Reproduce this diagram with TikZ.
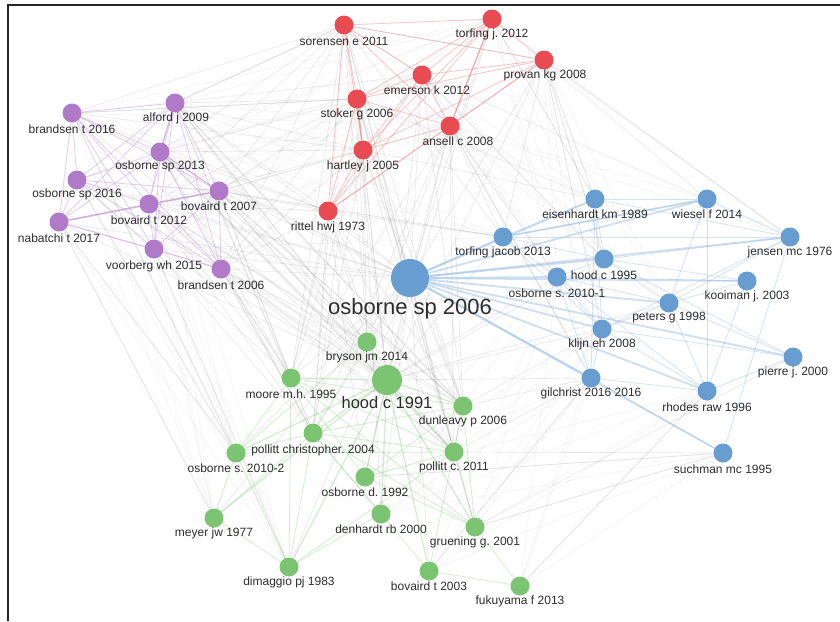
\documentclass[tikz,border=0pt]{standalone}
\usepackage{fontspec}
\setmainfont{Liberation Sans}
\frenchspacing
\pgfdeclarelayer{bg}
\pgfsetlayers{bg,main}
\definecolor{cred}{RGB}{232,76,82}
\definecolor{cpur}{RGB}{176,122,200}
\definecolor{cblu}{RGB}{104,157,210}
\definecolor{cgrn}{RGB}{122,196,114}
\definecolor{labc}{RGB}{45,45,45}
\tikzset{
  nd/.style={circle,inner sep=0pt,minimum size=19pt,draw=none},
  rn/.style={nd,fill=cred},
  pn/.style={nd,fill=cpur},
  bn/.style={nd,fill=cblu},
  gn/.style={nd,fill=cgrn},
  lab/.style={text=labc,font=\fontsize{12}{13}\selectfont,inner sep=0pt},
  ge/.style={draw=gray!70,opacity=.24,line width=.7pt},
  lge/.style={draw=gray!60,opacity=.14,line width=.7pt},
  re/.style={draw=cred!70,opacity=.45,line width=.8pt},
  pe/.style={draw=cpur!80,opacity=.45,line width=.8pt},
  be/.style={draw=cblu!80,opacity=.35,line width=.8pt},
  bbe/.style={draw=cblu!70,opacity=.45,line width=1.8pt},
  gre/.style={draw=cgrn!80,opacity=.4,line width=.8pt},
}
\newcommand\mknode[7]{\node[#2] (#1) at (#3,#4) {}; \node[lab] (#1L) at (#5,#6) {#7};}
\begin{document}
\begin{tikzpicture}[x=1pt,y=-1pt]
\useasboundingbox (0,0) rectangle (840,621);
\begin{pgfonlayer}{bg}
\fill[white] (0,0) rectangle (840,621);
\end{pgfonlayer}
\draw[black!85,line width=1.2pt] (8,621) -- (8,5) -- (840,5);
% red
\mknode{sor}{rn}{344}{25}{344}{41}{sorensen e 2011}
\mknode{torj}{rn}{492}{19}{492}{34}{torfing j. 2012}
\mknode{prov}{rn}{544}{60}{545}{75}{provan kg 2008}
\mknode{emer}{rn}{422}{75}{427}{90}{emerson k 2012}
\mknode{stok}{rn}{357}{99}{357}{114}{stoker g 2006}
\mknode{ans}{rn}{450}{126}{458}{141}{ansell c 2008}
\mknode{hart}{rn}{363}{150}{363}{166}{hartley j 2005}
\mknode{rit}{rn}{328}{211}{328}{227}{rittel hwj 1973}
% purple
\mknode{bra16}{pn}{72}{113}{72}{129}{brandsen t 2016}
\mknode{alf}{pn}{175}{103}{176}{118}{alford j 2009}
\mknode{osb13}{pn}{160}{152}{160}{166}{osborne sp 2013}
\mknode{osb16}{pn}{77}{180}{77}{194}{osborne sp 2016}
\mknode{bov12}{pn}{149}{204}{149}{220}{bovaird t 2012}
\mknode{bov07}{pn}{219}{191}{219}{206}{bovaird t 2007}
\mknode{nab}{pn}{59}{222}{59}{238}{nabatchi t 2017}
\mknode{voor}{pn}{154}{249}{154}{266}{voorberg wh 2015}
\mknode{bra06}{pn}{221}{269}{221}{285}{brandsen t 2006}
% blue
\node[nd,fill=cblu,minimum size=38pt] (osb06) at (410,278) {};
\node[text=labc,font=\fontsize{22}{24}\selectfont,inner sep=0pt] (osb06L) at (410,309) {osborne sp 2006};
\mknode{eis}{bn}{595}{199}{595}{214}{eisenhardt km 1989}
\mknode{wie}{bn}{707}{199}{707}{214}{wiesel f 2014}
\mknode{torjac}{bn}{503}{237}{503}{252}{torfing jacob 2013}
\mknode{jen}{bn}{790}{237}{790}{252}{jensen mc 1976}
\mknode{hood95}{bn}{604}{259}{604}{275}{hood c 1995}
\mknode{osb101}{bn}{557}{277}{557}{293}{osborne s. 2010-1}
\mknode{koo}{bn}{747}{281}{747}{296}{kooiman j. 2003}
\mknode{pet}{bn}{669}{303}{669}{318}{peters g 1998}
\mknode{kli}{bn}{602}{329}{602}{344}{klijn eh 2008}
\mknode{pie}{bn}{793}{357}{793}{372}{pierre j. 2000}
\mknode{gil}{bn}{591}{378}{591}{393}{gilchrist 2016 2016}
\mknode{rho}{bn}{707}{391}{707}{407}{rhodes raw 1996}
\mknode{suc}{bn}{723}{453}{723}{469}{suchman mc 1995}
% green
\node[nd,fill=cgrn,minimum size=30pt] (hood91) at (387,380) {};
\node[text=labc,font=\fontsize{16.5}{18}\selectfont,inner sep=0pt] (hood91L) at (387,403) {hood c 1991};
\mknode{bry}{gn}{367}{342}{367}{357}{bryson jm 2014}
\mknode{moo}{gn}{291}{378}{291}{394}{moore m.h. 1995}
\mknode{dun}{gn}{463}{406}{463}{421}{dunleavy p 2006}
\mknode{polc04}{gn}{313}{433}{313}{450}{pollitt christopher. 2004}
\mknode{osb102}{gn}{236}{453}{236}{468}{osborne s. 2010-2}
\mknode{polc11}{gn}{454}{452}{454}{467}{pollitt c. 2011}
\mknode{osbd}{gn}{365}{477}{365}{492}{osborne d. 1992}
\mknode{den}{gn}{381}{514}{381}{529}{denhardt rb 2000}
\mknode{mey}{gn}{214}{518}{214}{533}{meyer jw 1977}
\mknode{grue}{gn}{475}{527}{475}{542}{gruening g. 2001}
\mknode{dim}{gn}{289}{567}{289}{582}{dimaggio pj 1983}
\mknode{bov03}{gn}{429}{571}{429}{586}{bovaird t 2003}
\mknode{fuk}{gn}{520}{586}{520}{601}{fukuyama f 2013}

\begin{pgfonlayer}{bg}
% gray cross-cluster edges
\foreach \b in {bra16,alf,osb13,osb16,bov12,bov07,nab,voor,bra06,sor,torj,prov,emer,stok,ans,hart,rit,moo,bry,dun,polc04,polc11,osbd,den,grue,dim,mey,osb102,bov03}
  {\draw[ge] (osb06) -- (\b);}
\foreach \b in {bra16,alf,osb13,osb16,bov12,bov07,nab,voor,bra06,sor,torj,prov,emer,stok,ans,hart,rit,torjac,osb101,kli,gil,hood95,pet}
  {\draw[ge] (hood91) -- (\b);}
\foreach \a in {moo,bry,dun,polc11,polc04}
  {\foreach \b in {alf,osb13,bov07,bov12,bra06,sor,stok,hart,rit,ans}
    {\draw[ge] (\a) -- (\b);}}
\foreach \a in {alf,osb13,bov07,bra16,bov12,bra06}
  {\foreach \b in {sor,stok,hart,rit}
    {\draw[ge] (\a) -- (\b);}}
\foreach \a in {bra16,alf,osb13,osb16,bov07,voor}
  {\foreach \b in {emer,ans,torj,torjac}
    {\draw[lge] (\a) -- (\b);}}
\foreach \a in {osb102,mey,dim}
  {\foreach \b in {bra16,osb16,nab,voor,bov12,osb13}
    {\draw[lge] (\a) -- (\b);}}
\foreach \a in {grue,bov03,fuk,den,osbd}
  {\foreach \b in {gil,rho,kli,suc,osb101}
    {\draw[lge] (\a) -- (\b);}}
\foreach \a in {prov,ans,torj,emer}
  {\foreach \b in {eis,wie,hood95,osb101,kli,pet,gil,jen}
    {\draw[lge] (\a) -- (\b);}}
\foreach \a/\b in {prov/eis,prov/torjac,prov/hood95,prov/kli,prov/jen,ans/torjac,ans/osb101,ans/gil,torj/eis,sor/torjac,emer/hood95,
  polc11/gil,polc11/suc,grue/suc,fuk/rho,bov03/gil,dun/gil,dun/kli,grue/pie,osbd/suc,nab/osb102,nab/mey,osb16/moo,bra16/osb102,
  voor/polc04,voor/dim,osb16/osb102,bra06/moo,bra06/polc04,rit/osbd,hart/den,stok/grue,emer/dun,bov07/dun,alf/dun,osb13/polc11,
  sor/emer,bov07/torjac,rit/torjac,hart/eis,stok/eis,sor/prov,alf/sor,bra16/stok}
  {\draw[ge] (\a) -- (\b);}
% red
\foreach \a [count=\i] in {sor,torj,prov,emer,stok,ans,hart,rit}
  {\foreach \b [count=\j] in {sor,torj,prov,emer,stok,ans,hart,rit}
    {\ifnum\j>\i \draw[re] (\a) -- (\b);\fi}}
\draw[re,line width=1.6pt] (torj) -- (ans);
\draw[re,line width=1.6pt] (stok) -- (hart);
% purple
\foreach \a [count=\i] in {bra16,alf,osb13,osb16,bov12,bov07,nab,voor,bra06}
  {\foreach \b [count=\j] in {bra16,alf,osb13,osb16,bov12,bov07,nab,voor,bra06}
    {\ifnum\j>\i \draw[pe] (\a) -- (\b);\fi}}
\draw[pe,line width=1.8pt] (nab) -- (bov07);
\draw[pe,line width=1.4pt] (alf) -- (osb13);
\draw[pe,line width=1.4pt] (osb13) -- (bov07);
% blue
\foreach \b in {eis,wie,torjac,hood95,osb101,koo,pet,kli,gil,rho,jen,pie,suc}
  {\draw[bbe] (osb06) -- (\b);}
\foreach \a/\b in {torjac/wie,torjac/eis,torjac/jen,torjac/hood95,torjac/osb101,torjac/kli,eis/wie,eis/hood95,eis/kli,eis/jen,
  wie/jen,wie/rho,wie/pet,jen/hood95,jen/pet,jen/kli,jen/suc,hood95/osb101,hood95/koo,hood95/pet,hood95/pie,osb101/koo,osb101/pet,
  osb101/rho,osb101/kli,osb101/gil,pet/kli,pet/pie,pet/rho,kli/gil,kli/rho,kli/pie,gil/rho,gil/suc,rho/pie,koo/rho,koo/pet,eis/gil}
  {\draw[be] (\a) -- (\b);}
\draw[bbe] (torjac) -- (wie);
% green
\foreach \b in {bry,moo,dun,polc04,osb102,polc11,osbd,den,mey,grue,dim,bov03}
  {\draw[gre,line width=1.3pt] (hood91) -- (\b);}
\foreach \a/\b in {moo/osb102,moo/dun,moo/polc11,moo/grue,moo/dim,moo/osbd,bry/osb102,bry/polc04,polc04/osb102,polc04/dun,
  polc04/polc11,polc04/grue,polc04/bov03,polc04/dim,osb102/mey,osb102/dim,osb102/polc11,mey/dim,den/dim,den/polc04,grue/dun,
  grue/polc11,grue/osbd,fuk/bov03,fuk/grue,osbd/dun,osbd/polc11,dun/polc11,bov03/dun,dim/polc11,mey/polc04}
  {\draw[gre] (\a) -- (\b);}
\end{pgfonlayer}
\end{tikzpicture}
\end{document}
